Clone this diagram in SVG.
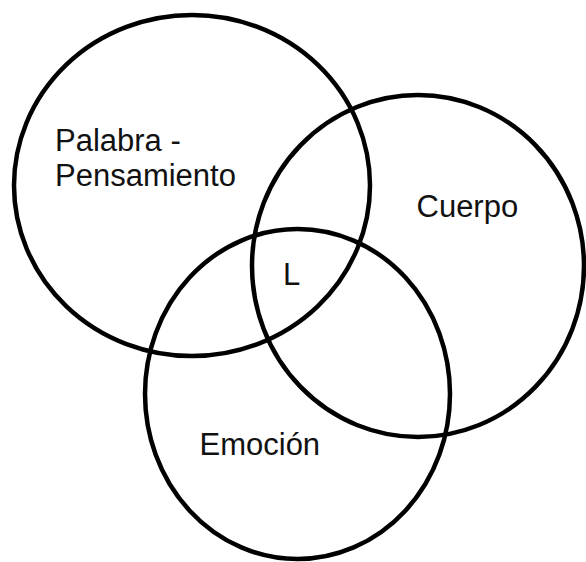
<svg xmlns="http://www.w3.org/2000/svg" width="586" height="562" viewBox="0 0 586 562">
<style>
.c{fill:none;stroke:#000;stroke-width:4.5}
.t{font-family:"Liberation Sans",Arial,sans-serif;font-size:31px;fill:#111}
</style>
<rect width="586" height="562" fill="#fff"/>
<g id="palabra">
<ellipse class="c" cx="192" cy="185.5" rx="178" ry="170.5"/>
<text class="t" x="55" y="151">Palabra -</text>
<text class="t" x="55" y="186">Pensamiento</text>
</g>
<g id="cuerpo">
<ellipse class="c" cx="418" cy="266" rx="166" ry="171"/>
<text class="t" x="416.5" y="217">Cuerpo</text>
</g>
<g id="emocion">
<ellipse class="c" cx="297.5" cy="394" rx="152.5" ry="165"/>
<text class="t" x="199.5" y="455">Emoción</text>
</g>
<g id="centro">
<text class="t" x="283" y="285">L</text>
</g>
<g id="connectors"></g>
</svg>
